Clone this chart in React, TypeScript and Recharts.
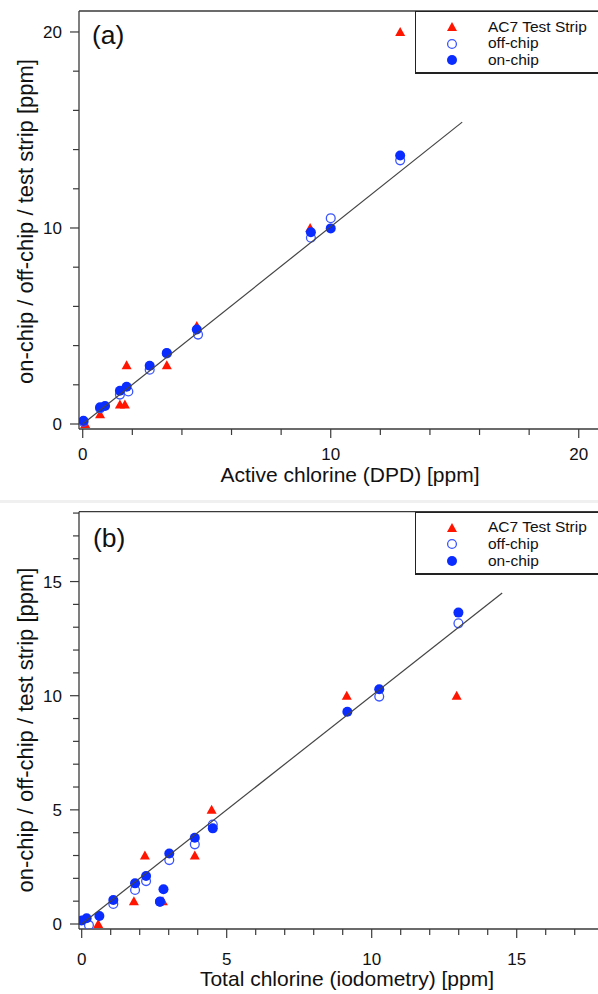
import React from 'react';
import { ScatterChart, Scatter, XAxis, YAxis, ReferenceLine, Legend } from 'recharts';

// panel (a): active chlorine (DPD)
const stripAx = [0.1, 0.7, 1.5, 1.7, 1.77, 3.39, 4.6, 9.17, 12.8];
const stripAy = [0, 0.5, 1, 1, 3, 3, 5, 10, 20];
const offAx = [0.03, 0.7, 1.5, 1.84, 2.7, 3.39, 4.65, 9.2, 10.0, 12.8];
const offAy = [0.1, 0.8, 1.5, 1.66, 2.77, 3.6, 4.56, 9.5, 10.5, 13.45];
const onAx = [0.03, 0.7, 0.9, 1.5, 1.77, 2.7, 3.39, 4.6, 9.2, 10.0, 12.8];
const onAy = [0.17, 0.85, 0.92, 1.7, 1.9, 2.97, 3.62, 4.82, 9.78, 9.98, 13.7];
const fitAx = [0, 15.3];
const fitAy = [0, 15.4];

// panel (b): total chlorine (iodometry)
const stripBx = [0.57, 1.8, 2.18, 2.8, 3.9, 4.48, 9.14, 12.93];
const stripBy = [0, 1, 3, 1, 3, 5, 10, 10];
const offBx = [0.25, 1.09, 1.84, 2.22, 2.7, 3.02, 3.9, 4.52, 10.26, 12.99];
const offBy = [-0.05, 0.88, 1.49, 1.88, 0.98, 2.8, 3.49, 4.36, 9.96, 13.17];
const onBx = [0, 0.17, 0.61, 1.09, 1.84, 2.22, 2.7, 2.82, 3.02, 3.9, 4.52, 9.16, 10.26, 12.99];
const onBy = [0.15, 0.25, 0.35, 1.05, 1.78, 2.1, 0.98, 1.52, 3.09, 3.78, 4.19, 9.3, 10.28, 13.64];
const fitBx = [0, 14.5];
const fitBy = [0, 14.5];

const seriesNames = ['AC7 Test Strip', 'off-chip', 'on-chip'];

const ticksA = [0, 2, 4, 6, 8, 10, 12, 14, 16, 18, 20];
const labelsA = [0, 10, 20];
const ticksB = [0, 1, 2, 3, 4, 5, 6, 7, 8, 9, 10, 11, 12, 13, 14, 15, 16, 17, 18];
const labelsB = [0, 5, 10, 15];

const RED = '#ff1500';
const BLUE = '#0a2cff';
const BLUE_OPEN = '#3a55ff';
const AXIS = '#3a3a3a';
const INK = '#111';
const FONT = '"Liberation Sans", Arial, Helvetica, sans-serif';

const pts = (xs: number[], ys: number[]) => xs.map((x, i) => ({ x, y: ys[i] }));

const Tri = ({ cx, cy }: any) => (
  <polygon points={`${cx},${cy - 5} ${cx - 5},${cy + 4} ${cx + 5},${cy + 4}`} fill={RED} />
);
const OpenDot = ({ cx, cy }: any) => (
  <circle cx={cx} cy={cy} r={4.4} fill="none" stroke={BLUE_OPEN} strokeWidth={1.3} />
);
const Dot = ({ cx, cy }: any) => <circle cx={cx} cy={cy} r={5} fill={BLUE} />;
const NoMark = () => <g />;

const glyphs: Record<string, (cx: number, cy: number) => React.ReactNode> = {
  'AC7 Test Strip': (cx, cy) => <Tri cx={cx} cy={cy} />,
  'off-chip': (cx, cy) => <OpenDot cx={cx} cy={cy} />,
  'on-chip': (cx, cy) => <Dot cx={cx} cy={cy} />,
};

const XTick = ({ x, y, payload, labels, labelDy }: any) => {
  const major = labels.includes(payload.value);
  return (
    <g>
      <line x1={x} x2={x} y1={y} y2={y + (major ? 9 : 6)} stroke={AXIS} strokeWidth={1.2} />
      {major && (
        <text x={x} y={y + labelDy} textAnchor="middle" fontSize={17} fill={INK} fontFamily={FONT}>
          {payload.value}
        </text>
      )}
    </g>
  );
};

const YTick = ({ x, y, payload, labels }: any) => {
  const major = labels.includes(payload.value);
  return (
    <g>
      <line x1={x - (major ? 9 : 6)} x2={x} y1={y} y2={y} stroke={AXIS} strokeWidth={1.2} />
      {major && (
        <text x={x - 17} y={y} dy="0.36em" textAnchor="end" fontSize={17} fill={INK} fontFamily={FONT}>
          {payload.value}
        </text>
      )}
    </g>
  );
};

const Title = ({ tx, ty, angle, text, size }: any) => (
  <text
    x={tx}
    y={ty}
    transform={angle ? `rotate(${angle} ${tx} ${ty})` : undefined}
    textAnchor="middle"
    fontSize={size}
    fill={INK}
    fontFamily={FONT}
  >
    {text}
  </text>
);

const LegendBox = ({ payload }: any) => (
  <div
    style={{
      width: 200,
      height: 63,
      boxSizing: 'border-box',
      border: '1.3px solid #222',
      borderBottom: '2.2px solid #222',
      background: '#fff',
      paddingTop: 6.5,
      fontFamily: FONT,
      fontSize: 15.5,
      color: INK,
    }}
  >
    {(payload || [])
      .filter((e: any) => seriesNames.includes(e.value))
      .map((e: any) => (
        <div key={e.value} style={{ display: 'flex', alignItems: 'center', height: 16.7, lineHeight: '16.7px' }}>
          <svg width={72} height={16} style={{ flex: 'none' }}>
            {glyphs[e.value](36, 8)}
          </svg>
          <span>{e.value}</span>
        </div>
      ))}
  </div>
);

type PanelProps = {
  strip: { x: number; y: number }[];
  off: { x: number; y: number }[];
  on: { x: number; y: number }[];
  fit: { x: number; y: number }[];
  xDomain: [number, number];
  yDomain: [number, number];
  xTicks: number[];
  yTicks: number[];
  xLabels: number[];
  yLabels: number[];
  marginTop: number;
  marginBottom: number;
  height: number;
  xTitle: string;
  xTitleX: number;
  xTitleDy: number;
  xLabelDy: number;
  yTitleY: number;
  legendTop: number;
};

function Panel(p: PanelProps) {
  return (
    <ScatterChart
      width={620}
      height={p.height}
      margin={{ top: p.marginTop, right: 10, bottom: p.marginBottom, left: 19 }}
    >
      <XAxis
        type="number"
        dataKey="x"
        domain={p.xDomain}
        allowDataOverflow
        ticks={p.xTicks}
        interval={0}
        height={60}
        tickSize={0}
        tickMargin={0}
        tickLine={false}
        axisLine={{ stroke: AXIS, strokeWidth: 1.3 }}
        tick={<XTick labels={p.xLabels} labelDy={p.xLabelDy} />}
        label={(props: any) => (
          <Title tx={p.xTitleX} ty={props.viewBox.y + p.xTitleDy} text={p.xTitle} size={21} />
        )}
      />
      <YAxis
        type="number"
        dataKey="y"
        domain={p.yDomain}
        allowDataOverflow
        ticks={p.yTicks}
        interval={0}
        width={60}
        tickSize={0}
        tickMargin={0}
        tickLine={false}
        axisLine={{ stroke: AXIS, strokeWidth: 1.3 }}
        tick={<YTick labels={p.yLabels} />}
        label={() => (
          <Title tx={33} ty={p.yTitleY} angle={-90} text="on-chip / off-chip / test strip [ppm]" size={22} />
        )}
      />
      <ReferenceLine y={p.yDomain[1]} stroke={AXIS} strokeWidth={1.3} />
      <Legend
        layout="vertical"
        align="center"
        verticalAlign="middle"
        wrapperStyle={{ left: 415, top: p.legendTop, width: 200 }}
        content={<LegendBox />}
      />
      <Scatter name={seriesNames[0]} data={p.strip} fill={RED} shape={<Tri />} isAnimationActive={false} />
      <Scatter name={seriesNames[1]} data={p.off} fill={BLUE_OPEN} shape={<OpenDot />} isAnimationActive={false} />
      <Scatter name={seriesNames[2]} data={p.on} fill={BLUE} shape={<Dot />} isAnimationActive={false} />
      <Scatter
        name="fit"
        data={p.fit}
        fill="#444"
        legendType="none"
        line={{ stroke: '#444', strokeWidth: 1.2 }}
        shape={<NoMark />}
        isAnimationActive={false}
      />
    </ScatterChart>
  );
}

export default function App() {
  return (
    <div
      style={{
        position: 'fixed',
        left: 0,
        top: 0,
        width: 598,
        height: 994,
        overflow: 'hidden',
        background: '#fff',
      }}
    >
      <div style={{ position: 'absolute', left: 0, top: 0 }}>
        <Panel
          strip={pts(stripAx, stripAy)}
          off={pts(offAx, offAy)}
          on={pts(onAx, onAy)}
          fit={pts(fitAx, fitAy)}
          xDomain={[-0.15, 21.26]}
          yDomain={[-0.255, 21.07]}
          xTicks={ticksA}
          yTicks={ticksA}
          xLabels={labelsA}
          yLabels={labelsA}
          marginTop={11}
          marginBottom={11}
          height={500}
          xTitle="Active chlorine (DPD) [ppm]"
          xTitleX={350}
          xTitleDy={53}
          xLabelDy={31}
          yTitleY={221.5}
          legendTop={11}
        />
      </div>
      <div style={{ position: 'absolute', left: 0, top: 500, width: 598, height: 3, background: '#f0f0f0' }} />
      <div style={{ position: 'absolute', left: 0, top: 490 }}>
        <Panel
          strip={pts(stripBx, stripBy)}
          off={pts(offBx, offBy)}
          on={pts(onBx, onBy)}
          fit={pts(fitBx, fitBy)}
          xDomain={[-0.093, 18.217]}
          yDomain={[-0.219, 18.06]}
          xTicks={ticksB}
          yTicks={ticksB}
          xLabels={labelsB}
          yLabels={labelsB}
          marginTop={21.7}
          marginBottom={5}
          height={504}
          xTitle="Total chlorine (iodometry) [ppm]"
          xTitleX={347}
          xTitleDy={57}
          xLabelDy={35.5}
          yTitleY={240}
          legendTop={21.7}
        />
      </div>
      <div style={{ position: 'absolute', left: 92, top: 22, fontFamily: FONT, fontSize: 26.5, lineHeight: 1, color: INK }}>
        (a)
      </div>
      <div style={{ position: 'absolute', left: 93, top: 525, fontFamily: FONT, fontSize: 26.5, lineHeight: 1, color: INK }}>
        (b)
      </div>
    </div>
  );
}
